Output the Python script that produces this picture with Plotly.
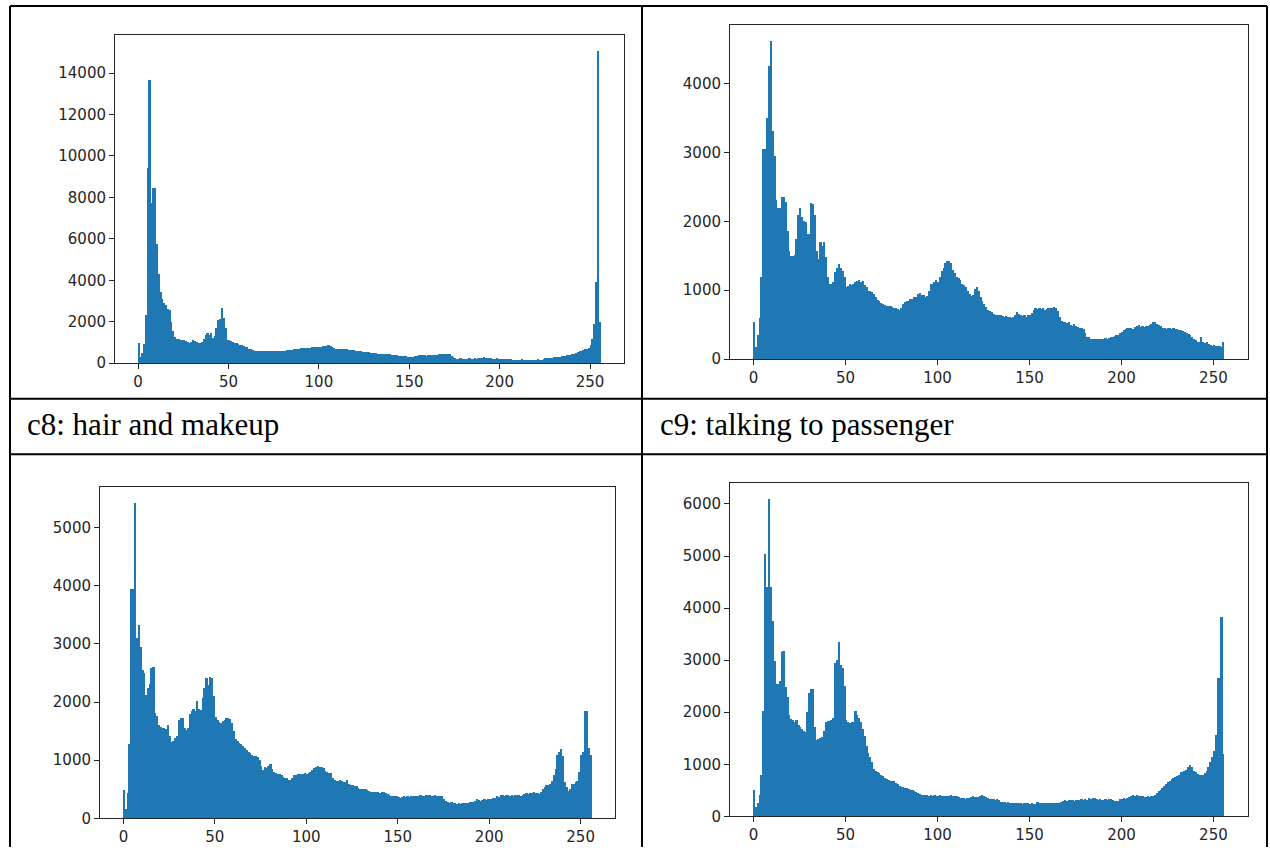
import plotly.graph_objects as go

W, H = 1270, 856

bins = list(range(256))
x_ticks = [0, 50, 100, 150, 200, 250]
labels = ["c8: hair and makeup", "c9: talking to passenger"]

c8_hist = [
    1000, 300, 500, 950, 2350, 9450, 13680, 7750, 8480, 8480, 5780, 4300, 3450, 3100, 2900, 2800,
    2650, 2600, 2000, 1550, 1300, 1200, 1200, 1150, 1150, 1150, 1100, 1050, 1000, 1050, 1150, 1100,
    1050, 1000, 1000, 1050, 1200, 1400, 1450, 1400, 1450, 1250, 1350, 1700, 2100, 2150, 2700, 2200,
    1700, 1150, 1150, 1100, 1050, 1000, 1000, 950, 900, 900, 850, 800, 780, 720, 680, 640,
    620, 600, 590, 590, 580, 590, 590, 580, 590, 580, 590, 600, 590, 580, 590, 600,
    610, 620, 640, 650, 660, 670, 690, 700, 700, 720, 730, 740, 750, 760, 770, 770,
    780, 790, 800, 810, 800, 820, 830, 840, 860, 880, 850, 820, 750, 720, 700, 700,
    690, 690, 680, 680, 670, 660, 640, 630, 610, 600, 590, 580, 570, 560, 560, 540,
    520, 510, 500, 490, 480, 470, 460, 460, 450, 450, 440, 440, 430, 420, 400, 390,
    370, 360, 350, 350, 340, 330, 320, 320, 330, 340, 380, 400, 390, 400, 390, 380,
    400, 410, 400, 420, 410, 430, 440, 460, 470, 480, 470, 480, 450, 380, 300, 250,
    240, 240, 250, 240, 240, 230, 240, 250, 240, 240, 250, 240, 260, 280, 290, 300,
    290, 290, 280, 260, 240, 240, 250, 240, 240, 230, 240, 240, 230, 220, 200, 190,
    180, 170, 160, 170, 200, 170, 160, 160, 190, 170, 160, 160, 180, 200, 170, 190,
    230, 250, 260, 270, 290, 290, 300, 310, 320, 330, 340, 350, 380, 400, 400, 420,
    450, 480, 520, 550, 580, 620, 640, 680, 720, 760, 900, 1200, 1900, 3950, 15100, 2000,
]

c9_hist = [
    550, 180, 350, 600, 1190, 3050, 3050, 3500, 4260, 4620, 3320, 2950, 2320, 2200, 2200, 2350,
    2350, 2280, 1870, 1580, 1500, 1500, 1520, 1750, 2100, 2200, 2060, 2010, 1990, 1820, 1820, 2270,
    2250, 2100, 1580, 1450, 1700, 1650, 1700, 1480, 1190, 1100, 1100, 1120, 1270, 1320, 1390, 1330,
    1290, 1200, 1050, 1060, 1100, 1080, 1100, 1120, 1140, 1150, 1130, 1140, 1080, 1050, 1000, 1000,
    980, 950, 900, 860, 850, 820, 800, 790, 780, 770, 780, 760, 750, 740, 730, 720,
    740, 800, 840, 850, 850, 870, 880, 900, 910, 950, 960, 940, 930, 900, 920, 1000,
    1100, 1100, 1120, 1150, 1120, 1200, 1280, 1330, 1400, 1430, 1430, 1400, 1300, 1250, 1200, 1180,
    1150, 1100, 1080, 1050, 1000, 950, 920, 930, 1020, 1050, 1000, 900, 850, 800, 760, 720,
    700, 690, 660, 650, 640, 650, 640, 630, 620, 630, 620, 610, 600, 610, 650, 690,
    660, 640, 630, 640, 620, 640, 650, 680, 720, 740, 730, 740, 730, 740, 720, 730,
    740, 750, 740, 760, 750, 700, 620, 560, 540, 550, 530, 540, 500, 490, 510, 480,
    470, 450, 460, 440, 380, 330, 320, 300, 300, 290, 300, 300, 290, 300, 300, 310,
    300, 310, 320, 330, 340, 350, 360, 380, 400, 420, 440, 450, 460, 450, 440, 470,
    480, 500, 470, 490, 470, 480, 490, 500, 520, 540, 550, 520, 500, 480, 460, 450,
    440, 450, 450, 440, 450, 440, 440, 430, 420, 410, 400, 380, 370, 350, 330, 300,
    280, 260, 250, 330, 250, 240, 250, 230, 210, 200, 210, 200, 190, 200, 180, 250,
]

c10_hist = [
    490, 170, 430, 1280, 3950, 3950, 5430, 3100, 3320, 2950, 2550, 2500, 2120, 2250, 2320, 2580,
    2600, 1820, 1770, 1600, 1570, 1560, 1560, 1540, 1600, 1420, 1320, 1340, 1380, 1420, 1700, 1730,
    1720, 1560, 1530, 1560, 1790, 1850, 1880, 1850, 2020, 1880, 1860, 2080, 2240, 2420, 2300, 2430,
    2420, 2100, 1750, 1700, 1660, 1650, 1680, 1700, 1730, 1730, 1710, 1650, 1500, 1360, 1340, 1300,
    1280, 1250, 1220, 1180, 1140, 1120, 1100, 1080, 1080, 1060, 1000, 900, 830, 880, 860, 900,
    940, 850, 800, 780, 770, 760, 740, 720, 700, 690, 670, 670, 700, 740, 750, 760,
    770, 760, 770, 780, 770, 790, 800, 840, 870, 890, 900, 890, 880, 860, 820, 800,
    790, 780, 700, 660, 650, 640, 660, 650, 630, 620, 660, 600, 580, 570, 560, 560,
    530, 510, 500, 510, 500, 490, 470, 460, 450, 460, 450, 450, 440, 450, 450, 440,
    420, 400, 390, 380, 390, 380, 370, 360, 370, 380, 370, 380, 370, 380, 390, 380,
    380, 390, 400, 390, 380, 400, 410, 400, 390, 390, 400, 390, 380, 390, 380, 330,
    300, 280, 270, 280, 260, 270, 250, 260, 250, 270, 260, 260, 270, 280, 280, 290,
    300, 330, 310, 300, 320, 330, 310, 330, 340, 330, 350, 360, 380, 370, 400, 410,
    390, 400, 400, 390, 400, 390, 400, 410, 400, 390, 400, 420, 440, 420, 430, 430,
    450, 430, 440, 420, 460, 500, 550, 570, 580, 600, 650, 750, 850, 1100, 1150, 1190,
    1080, 625, 550, 480, 500, 600, 600, 620, 640, 800, 1100, 1150, 1850, 1850, 1220, 1100,
]

c11_hist = [
    510, 180, 250, 420, 800, 2030, 5050, 4410, 6100, 4410, 3750, 2990, 2540, 2540, 2600, 3150,
    3180, 2480, 2300, 1940, 1880, 1860, 1820, 1850, 1760, 1720, 1680, 1640, 1620, 2000, 2380, 2440,
    2440, 1720, 1460, 1480, 1500, 1520, 1640, 1810, 1840, 1840, 1850, 1900, 2950, 3000, 3350, 2900,
    2850, 2500, 1850, 1820, 1800, 1810, 1820, 2030, 1950, 1900, 1820, 1680, 1550, 1350, 1220, 1150,
    1050, 920, 880, 860, 840, 800, 780, 740, 720, 700, 690, 680, 680, 650, 620, 580,
    570, 560, 540, 550, 520, 510, 500, 480, 470, 450, 430, 410, 420, 410, 410, 400,
    410, 400, 410, 400, 400, 410, 400, 390, 400, 390, 400, 410, 400, 390, 400, 380,
    360, 350, 350, 340, 350, 350, 380, 390, 380, 370, 380, 400, 410, 390, 380, 360,
    340, 330, 340, 320, 330, 310, 280, 270, 280, 260, 270, 260, 260, 250, 260, 250,
    260, 250, 240, 260, 250, 250, 240, 250, 230, 240, 270, 250, 260, 250, 260, 250,
    260, 250, 260, 250, 260, 250, 260, 280, 300, 310, 300, 310, 320, 310, 300, 320,
    310, 320, 330, 320, 340, 320, 350, 340, 360, 350, 330, 320, 330, 310, 320, 330,
    310, 340, 330, 320, 300, 290, 300, 330, 340, 350, 340, 360, 380, 390, 410, 400,
    410, 400, 390, 400, 380, 380, 390, 380, 390, 400, 420, 450, 480, 500, 540, 580,
    620, 660, 690, 720, 740, 760, 780, 800, 850, 860, 880, 900, 950, 990, 950, 880,
    850, 820, 800, 790, 800, 830, 880, 950, 1050, 1150, 1250, 1560, 2650, 2650, 3840, 1200,
]

# panel pixel boxes (left, right, top, bottom) and y tick step
panels = [
    (c8_hist, (115, 624, 35, 367), 2000),
    (c9_hist, (730, 1248, 25, 363), 1000),
    (c10_hist, (100, 615, 492, 827), 1000),
    (c11_hist, (730, 1248, 488, 825), 1000),
]

BAR = "#1f77b4"
AX = "#262626"
TICKFONT = dict(family="DejaVu Sans", size=15, color=AX)

fig = go.Figure()
layout = {}
for k, (vals, (l, r, t, b), step) in enumerate(panels):
    n = "" if k == 0 else str(k + 1)
    fig.add_trace(go.Bar(
        x=[v + 0.5 for v in bins], y=vals, width=1.0,
        marker=dict(color=BAR, line=dict(width=0)),
        xaxis="x" + n, yaxis="y" + n, showlegend=False, hoverinfo="skip",
    ))
    ymax = max(vals) * 1.05
    layout["xaxis" + n] = dict(
        domain=[l / W, r / W], anchor="y" + n, range=[-12.8, 268.8],
        tickvals=x_ticks, ticks="outside", ticklen=5, tickwidth=1, tickcolor=AX,
        showline=True, mirror=True, linecolor=AX, linewidth=1,
        showgrid=False, zeroline=False, tickfont=TICKFONT,
    )
    layout["yaxis" + n] = dict(
        domain=[1 - b / H, 1 - t / H], anchor="x" + n, range=[0, ymax],
        tickvals=list(range(0, int(ymax) + 1, step)), tickformat="d",
        ticks="outside", ticklen=5, tickwidth=1, tickcolor=AX,
        showline=True, mirror=True, linecolor=AX, linewidth=1,
        showgrid=False, zeroline=False, tickfont=TICKFONT,
    )

# table lines (pixel coordinates)
line_style = dict(color="black", width=2)
shapes = []
def hline(y, x0, x1):
    shapes.append(dict(type="line", xref="paper", yref="paper", x0=x0 / W, x1=x1 / W,
                       y0=1 - y / H, y1=1 - y / H, line=line_style, layer="above"))
def vline(x, y0, y1):
    shapes.append(dict(type="line", xref="paper", yref="paper", x0=x / W, x1=x / W,
                       y0=1 - y0 / H, y1=1 - y1 / H, line=line_style, layer="above"))

hline(6, 10, 1267)
hline(403, 10, 1267)
hline(459, 10, 1267)
vline(10, 6, 856)
vline(642, 6, 856)
vline(1267, 6, 856)

annotations = []
for txt, xp in zip(labels, [25, 658]):
    annotations.append(dict(
        text=txt, xref="paper", yref="paper", x=xp / W, y=1 - 429 / H,
        xanchor="left", yanchor="middle", showarrow=False,
        font=dict(family="Liberation Serif", size=31, color="black"),
    ))

fig.update_layout(
    width=W, height=H, margin=dict(l=0, r=0, t=0, b=0),
    paper_bgcolor="white", plot_bgcolor="white",
    bargap=0, shapes=shapes, annotations=annotations, **layout,
)

fig.write_html("out.html", config={"displayModeBar": False})
